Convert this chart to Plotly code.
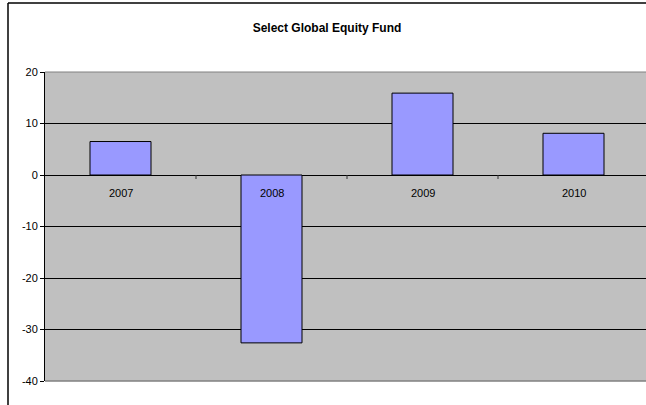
import plotly.graph_objects as go

title = "Select Global Equity Fund"
categories = ["2007", "2008", "2009", "2010"]
values = [6.5, -32.6, 15.9, 8.1]
y_ticks = [20, 10, 0, -10, -20, -30, -40]

W, H = 646, 405
ML, MT, MB = 45, 72, 24
plot_w = W - ML
plot_h = H - MT - MB

def px_x(p):
    return (p - ML) / plot_w

def px_y(p):
    return (H - MB - p) / plot_h

x_idx = list(range(len(categories)))

fig = go.Figure()
fig.add_trace(go.Bar(
    x=x_idx, y=values, width=0.404,
    marker=dict(color="#9999FF", line=dict(color="#000000", width=1)),
    hoverinfo="skip",
))

shapes = []
# chart outer border (cropped on right/bottom)
shapes.append(dict(type="line", xref="paper", yref="paper",
                   x0=px_x(8), x1=px_x(8), y0=px_y(3), y1=px_y(420),
                   line=dict(color="#000000", width=1.5)))
shapes.append(dict(type="line", xref="paper", yref="paper",
                   x0=px_x(8), x1=px_x(700), y0=px_y(3), y1=px_y(3),
                   line=dict(color="#000000", width=1.5)))
# plot area top/bottom borders (gray)
shapes.append(dict(type="line", xref="paper", yref="paper",
                   x0=0, x1=1, y0=1, y1=1, line=dict(color="#808080", width=1)))
shapes.append(dict(type="line", xref="paper", yref="paper",
                   x0=0, x1=1, y0=0, y1=0, line=dict(color="#808080", width=1.5)))
# category boundary ticks on zero line
for i in range(len(categories) - 1):
    shapes.append(dict(type="line", xref="x", yref="y", ysizemode="pixel",
                       yanchor=0, x0=i + 0.5, x1=i + 0.5, y0=0, y1=-4,
                       line=dict(color="#333333", width=1)))

annotations = []
for i, c in enumerate(categories):
    annotations.append(dict(x=i, y=0, xref="x", yref="y", text=c,
                            showarrow=False, yanchor="top", yshift=-10,
                            font=dict(family="Liberation Sans, Arial", size=11, color="#000000")))

fig.update_layout(
    width=W, height=H, autosize=False,
    margin=dict(l=ML, r=0, t=MT, b=MB, pad=0),
    paper_bgcolor="#FFFFFF", plot_bgcolor="#C0C0C0",
    showlegend=False,
    title=dict(text="<b>" + title + "</b>", x=327 / W, xanchor="center",
               y=1 - 28 / H, yanchor="middle",
               font=dict(family="Liberation Sans, Arial", size=12, color="#000000")),
    xaxis=dict(range=[-0.5, -0.5 + plot_w / 151.0], showticklabels=False,
               showgrid=False, zeroline=False, showline=False, ticks="",
               fixedrange=True),
    yaxis=dict(range=[-40, 20], tickvals=y_ticks, ticktext=[str(v) for v in y_ticks],
               showgrid=True, gridcolor="#000000", gridwidth=1,
               zeroline=True, zerolinecolor="#000000", zerolinewidth=1,
               showline=True, linecolor="#000000", linewidth=1,
               ticks="outside", ticklen=4, tickcolor="#000000",
               tickfont=dict(family="Liberation Sans, Arial", size=11, color="#000000"),
               fixedrange=True),
    shapes=shapes, annotations=annotations,
)

fig.write_html(
    "out.html",
    config={"displayModeBar": False, "staticPlot": True},
    post_script="document.body.style.margin='0';document.body.style.overflow='hidden';",
)
